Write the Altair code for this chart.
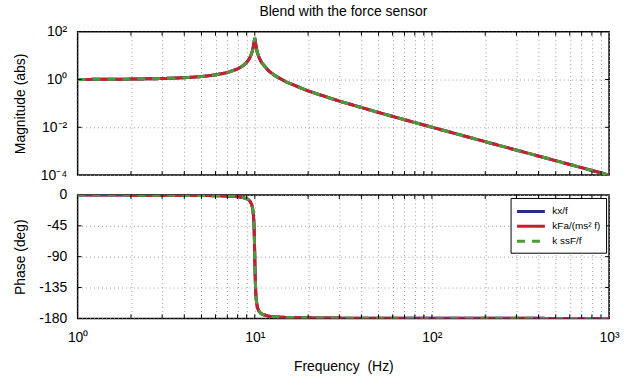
import altair as alt
import pandas as pd

# ---- data ----
freq = [1, 1.5, 2, 3, 4, 5, 6, 7, 8, 8.5, 9, 9.2, 9.4, 9.6, 9.7, 9.8, 9.85, 9.9, 9.95, 10,
        10.05, 10.1, 10.15, 10.2, 10.3, 10.4, 10.6, 10.8, 11, 12, 13, 15, 20, 30, 50, 70,
        100, 200, 300, 500, 700, 1000]
magnitude = [1.01, 1.023, 1.042, 1.099, 1.19, 1.333, 1.563, 1.96, 2.78, 3.6, 5.26, 6.5, 8.48,
             12.4, 16.1, 22.6, 28, 35.6, 44.9, 55, 44.5, 35.1, 27.5, 22.1, 15.6, 11.9, 8.0,
             6.0, 4.76, 2.27, 1.45, 0.8, 0.333, 0.125, 0.0417, 0.0208, 0.0101, 0.0025,
             0.00111, 0.0004, 0.000204, 0.0001]
phase = [-0.1, -0.18, -0.24, -0.38, -0.55, -0.76, -1.07, -1.57, -2.5, -3.5, -5.4, -6.8, -9.2,
         -13.8, -18.2, -26.3, -33.5, -44.9, -63.4, -90, -116.5, -134.9, -146.1, -153.2,
         -161.3, -165.7, -170.3, -172.6, -174, -176.9, -177.8, -178.6, -179.2, -179.6,
         -179.8, -179.85, -179.9, -179.95, -179.97, -179.98, -179.99, -180]
series = ["kx/f", "kFa/(ms² f)", "k ssF/f"]
colors = ["#2b2b8a", "#c61f2e", "#4d9a3b"]
dashes = [[1, 0], [1, 0], [8, 7]]

x_ticks = [1, 2, 3, 4, 5, 6, 7, 8, 9, 10, 20, 30, 40, 50, 60, 70, 80, 90,
           100, 200, 300, 400, 500, 600, 700, 800, 900, 1000]
mag_ticks = [0.0001, 0.01, 1, 100]
phase_ticks = [-180, -135, -90, -45, 0]

rows = []
for s in series:
    for f, m, p in zip(freq, magnitude, phase):
        rows.append({"series": s, "freq": f, "mag": m, "phase": p})
df = pd.DataFrame(rows)
xt_df = pd.DataFrame({"freq": x_ticks[1:-1]})
mt_df = pd.DataFrame({"mag": mag_ticks[1:-1]})
pt_df = pd.DataFrame({"phase": phase_ticks[1:-1]})

FONT = "Liberation Sans"
W, H1, H2 = 534, 144, 124

xscale = alt.Scale(type="log", domain=[1, 1000], nice=False)
grid_kw = dict(grid=True, gridColor="#9a9a9a", gridDash=[1, 3], gridWidth=1,
               ticks=False, tickSize=0, domain=False,
               labelFont=FONT, titleFont=FONT, labelColor="black", titleColor="black",
               titleFontWeight="normal", titleFontSize=14, labelFontSize=14)

x_top_axis = alt.Axis(values=x_ticks, labels=False, title=None, labelPadding=0, **grid_kw)
x_bot_axis = alt.Axis(
    values=x_ticks,
    labelExpr="datum.value == 1 ? '10⁰' : datum.value == 10 ? '10¹' : datum.value == 100 ? '10²' : datum.value == 1000 ? '10³' : ''",
    labelOverlap=False, labelFlush=False, labelPadding=12,
    title="Frequency\u00a0 (Hz)", titlePadding=15, **grid_kw)

mag_axis = alt.Axis(
    values=mag_ticks,
    labelExpr="datum.value > 50 ? '10²' : datum.value > 0.5 ? '10⁰' : datum.value > 0.005 ? '10⁻²' : '10⁻⁴'",
    labelPadding=11, title="Magnitude (abs)",
    titleX=-50, titleY=H1 / 2, **grid_kw)
mag_scale = alt.Scale(type="log", domain=[0.0001, 100], nice=False)

phase_axis = alt.Axis(values=phase_ticks, labelExpr="'' + datum.value", labelPadding=11,
                      title="Phase (deg)", titleX=-50, titleY=H2 / 2, **grid_kw)
phase_scale = alt.Scale(domain=[-180, 0], nice=False)

col_scale = alt.Scale(domain=series, range=colors)
dash_scale = alt.Scale(domain=series, range=dashes)

legend = alt.Legend(orient="top-right", title=None, offset=3, strokeColor="black",
                    fillColor="white", padding=5, symbolType="M-1,0H3", symbolSize=196,
                    symbolStrokeWidth=3, labelFontSize=10, labelFont=FONT, labelColor="black",
                    labelOffset=20, rowPadding=0, cornerRadius=0, labelLimit=200)


def panel(yfield, yscale, yaxis, xaxis, H, show_legend, tick_df):
    leg = legend if show_legend else None
    lines = alt.Chart(df).mark_line(strokeWidth=3, clip=True).encode(
        x=alt.X("freq:Q", scale=xscale, axis=xaxis),
        y=alt.Y(f"{yfield}:Q", scale=yscale, axis=yaxis),
        color=alt.Color("series:N", scale=col_scale, legend=leg, sort=series),
        strokeDash=alt.StrokeDash("series:N", scale=dash_scale, legend=leg, sort=series),
        detail="series:N",
    )
    xrule = alt.Chart(xt_df).mark_rule(color="black", strokeWidth=1)
    xt_top = xrule.encode(x=alt.X("freq:Q", scale=xscale, axis=xaxis),
                          y=alt.value(0), y2=alt.value(4))
    xt_bot = xrule.encode(x=alt.X("freq:Q", scale=xscale, axis=xaxis),
                          y=alt.value(H), y2=alt.value(H - 4))
    yrule = alt.Chart(tick_df).mark_rule(color="black", strokeWidth=1)
    yt_l = yrule.encode(y=alt.Y(f"{yfield}:Q", scale=yscale, axis=yaxis),
                        x=alt.value(0), x2=alt.value(4))
    yt_r = yrule.encode(y=alt.Y(f"{yfield}:Q", scale=yscale, axis=yaxis),
                        x=alt.value(W), x2=alt.value(W - 4))
    return alt.layer(lines, xt_top, xt_bot, yt_l, yt_r).properties(width=W, height=H)


top = panel("mag", mag_scale, mag_axis, x_top_axis, H1, False, mt_df).properties(
    title=alt.TitleParams("Blend with the force sensor", fontSize=14, font=FONT,
                          fontWeight="normal", offset=6, anchor="middle", color="black"))
bottom = panel("phase", phase_scale, phase_axis, x_bot_axis, H2, True, pt_df)

chart = alt.vconcat(top, bottom, spacing=4).resolve_scale(
    color="independent", strokeDash="independent"
).resolve_legend(color="independent", strokeDash="independent").properties(
    padding={"left": 13, "top": 3, "right": 5, "bottom": 5}, background="white"
).configure_view(stroke="black", strokeWidth=1.5)

chart.save("out.html", embed_options={"renderer": "svg", "actions": False})
